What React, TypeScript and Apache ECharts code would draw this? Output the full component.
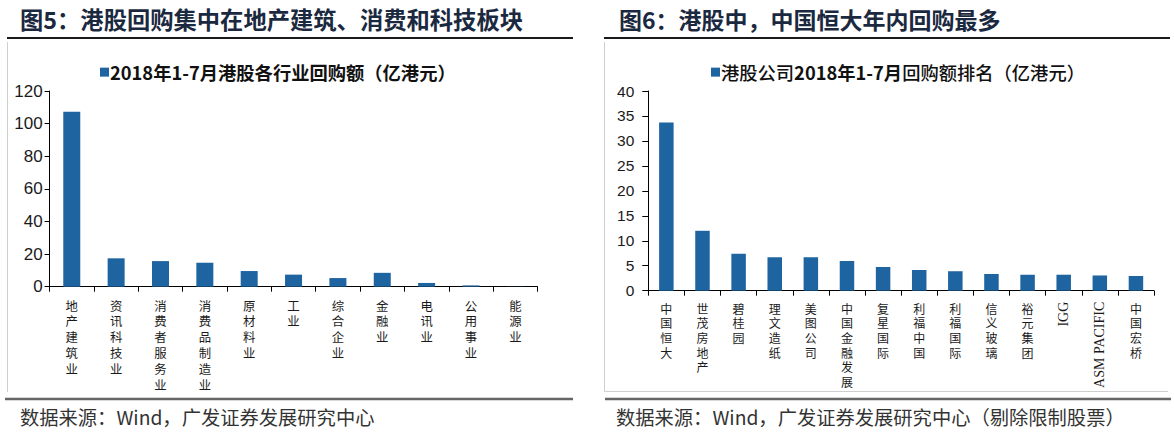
import React, { useEffect, useRef } from "react";
import * as echarts from "echarts";

// ---------- data ----------
const sectors = ["地产建筑业", "资讯科技业", "消费者服务业", "消费品制造业", "原材料业", "工业", "综合企业", "金融业", "电讯业", "公用事业", "能源业"];
const sectorBuyback = [107.2, 17.4, 15.7, 14.7, 9.6, 7.4, 5.3, 8.5, 2.3, 0.8, 0.1];

const companies = ["中国恒大", "世茂房地产", "碧桂园", "理文造纸", "美图公司", "中国金融发展", "复星国际", "利福中国", "利福国际", "信义玻璃", "裕元集团", "IGG", "ASM PACIFIC", "中国宏桥"];
const companyBuyback = [33.7, 12.0, 7.4, 6.7, 6.7, 5.95, 4.75, 4.15, 3.9, 3.35, 3.2, 3.2, 3.05, 2.95];

const sectorAxisRange = [0, 120, 20];
const companyAxisRange = [0, 40, 5];

const title5 = "图5：港股回购集中在地产建筑、消费和科技板块";
const title6 = "图6：港股中，中国恒大年内回购最多";
const seriesName5 = "2018年1-7月港股各行业回购额（亿港元）";
const seriesName6 = "港股公司2018年1-7月回购额排名（亿港元）";
const source5 = "数据来源：Wind，广发证券发展研究中心";
const source6 = "数据来源：Wind，广发证券发展研究中心（剔除限制股票）";

// ---------- styles ----------
const BAR = "#1E64A0";
const CJK = '"Noto Sans CJK SC", "Noto Sans", sans-serif';
const NUM = '"Liberation Sans", Arial, sans-serif';
const isLatin = (s: string) => /^[A-Za-z0-9 ]+$/.test(s);
const stack = (s: string) => s.split("").join("\n");

export default function App() {
  const ref = useRef<HTMLDivElement>(null);
  useEffect(() => {
    document.body.style.margin = "0";
    const chart = echarts.init(ref.current!, undefined, { renderer: "svg" });
    const axisLine = { show: true, lineStyle: { color: "#000", width: 1 } };
    chart.setOption({
      animation: false,
      backgroundColor: "#fff",
      grid: [
        { left: 49.6, right: 636.5, top: 91, bottom: 150.3, containLabel: false },
        { left: 648.3, right: 20, top: 91, bottom: 146.3, containLabel: false },
      ],
      legend: [
        {
          data: [seriesName5], left: 95, top: 58, icon: "rect", itemWidth: 9, itemHeight: 9,
          textStyle: { fontFamily: CJK, fontSize: 18.3, fontWeight: "bold", color: "#111", padding: [0, 0, 0, -4] },
        },
        {
          data: [seriesName6], left: 706, top: 58, icon: "rect", itemWidth: 9, itemHeight: 9,
          formatter: () => "{a|港股公司}{b|2018年1-7月}{a|回购额排名（亿港元）}",
          textStyle: {
            padding: [0, 0, 0, -4],
            rich: {
              a: { fontFamily: CJK, fontSize: 18.3, fontWeight: 500, color: "#111" },
              b: { fontFamily: CJK, fontSize: 18.3, fontWeight: "bold", color: "#111" },
            },
          },
        },
      ],
      xAxis: [
        {
          type: "category", gridIndex: 0, data: sectors, position: "bottom",
          axisLine, axisTick: { show: true, length: 5, lineStyle: { color: "#000" } },
          axisLabel: {
            interval: 0, margin: 11, formatter: (v: string) => stack(v),
            fontFamily: CJK, fontSize: 12.4, lineHeight: 15.8, color: "#1a1a1a", verticalAlign: "top",
          },
        },
        {
          type: "category", gridIndex: 1, data: companies, position: "bottom",
          axisLine, axisTick: { show: true, length: 5, lineStyle: { color: "#000" } },
          axisLabel: {
            interval: 0, margin: 10, formatter: (v: string) => (isLatin(v) ? "" : stack(v)),
            fontFamily: CJK, fontSize: 12, lineHeight: 14.7, color: "#1a1a1a", verticalAlign: "top",
          },
        },
        {
          type: "category", gridIndex: 1, data: companies, position: "bottom",
          axisLine: { show: false }, axisTick: { show: false },
          axisLabel: {
            interval: 0, margin: 11, rotate: 90, formatter: (v: string) => (isLatin(v) ? v : ""),
            fontFamily: '"Liberation Serif", serif', fontSize: 14, color: "#1a1a1a",
          },
        },
      ],
      yAxis: [
        {
          type: "value", gridIndex: 0, min: sectorAxisRange[0], max: sectorAxisRange[1], interval: sectorAxisRange[2],
          axisLine, axisTick: { show: true, length: 5, lineStyle: { color: "#000" } },
          splitLine: { show: false },
          axisLabel: { margin: 7, fontFamily: NUM, fontSize: 17, color: "#1a1a1a" },
        },
        {
          type: "value", gridIndex: 1, min: companyAxisRange[0], max: companyAxisRange[1], interval: companyAxisRange[2],
          axisLine, axisTick: { show: true, length: 6, lineStyle: { color: "#000" } },
          splitLine: { show: false },
          axisLabel: { margin: 14, fontFamily: NUM, fontSize: 15.5, color: "#1a1a1a" },
        },
      ],
      series: [
        { name: seriesName5, type: "bar", xAxisIndex: 0, yAxisIndex: 0, data: sectorBuyback, barWidth: 17, itemStyle: { color: BAR } },
        { name: seriesName6, type: "bar", xAxisIndex: 1, yAxisIndex: 1, data: companyBuyback, barWidth: 14.5, itemStyle: { color: BAR } },
      ],
      graphic: [
        { type: "text", left: 20, top: 7, style: { text: title5, fontFamily: CJK, fontSize: 23.3, fontWeight: "bold", fill: "#1b2940" } },
        { type: "text", left: 619, top: 7, style: { text: title6, fontFamily: CJK, fontSize: 23, fontWeight: "bold", fill: "#1b2940" } },
        { type: "line", shape: { x1: 7, y1: 38, x2: 573, y2: 38 }, style: { stroke: "#1a1a1a", lineWidth: 2 } },
        { type: "line", shape: { x1: 604, y1: 38, x2: 1170, y2: 38 }, style: { stroke: "#1a1a1a", lineWidth: 2 } },
        { type: "line", shape: { x1: 7.5, y1: 42, x2: 7.5, y2: 392 }, style: { stroke: "#cfcfcf", lineWidth: 1 } },
        { type: "line", shape: { x1: 604.5, y1: 42, x2: 604.5, y2: 391.5 }, style: { stroke: "#cfcfcf", lineWidth: 1 } },
        { type: "line", shape: { x1: 604.5, y1: 391.5, x2: 1168, y2: 391.5 }, style: { stroke: "#cfcfcf", lineWidth: 1 } },
        { type: "line", shape: { x1: 5, y1: 399, x2: 573, y2: 399 }, style: { stroke: "#666", lineWidth: 2.5 } },
        { type: "line", shape: { x1: 605, y1: 399, x2: 1171, y2: 399 }, style: { stroke: "#666", lineWidth: 2.5 } },
        { type: "text", left: 20, top: 407, style: { text: source5, fontFamily: CJK, fontSize: 19.3, fill: "#333" } },
        { type: "text", left: 616, top: 407, style: { text: source6, fontFamily: CJK, fontSize: 19.3, fill: "#333" } },
      ],
    });
    return () => chart.dispose();
  }, []);
  return <div ref={ref} style={{ position: "absolute", left: 0, top: 0, width: 1174, height: 437 }} />;
}
